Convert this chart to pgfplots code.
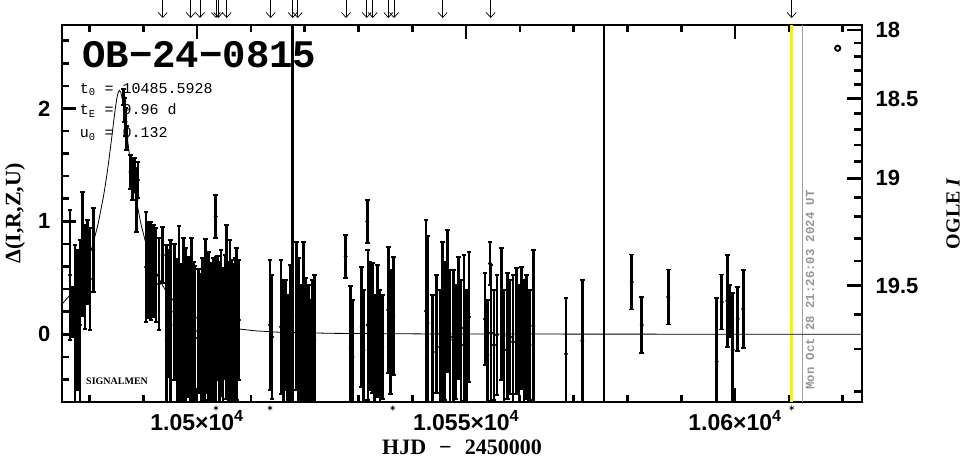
\documentclass[border=0pt]{standalone}
\usepackage{fontspec}
\setmainfont{Liberation Serif}
\newfontfamily\sansf{Liberation Sans}
\newfontfamily\monof{Liberation Mono}
\usepackage{pgfplots}
\usepackage{pgfplotstable}
\pgfplotsset{compat=1.18}
\usetikzlibrary{arrows.meta}
\definecolor{tgray}{RGB}{150,150,150}
\definecolor{lgray}{RGB}{160,160,160}

\pgfplotstableread{
x y e
10476.39 0.525 0.576
10476.85 0.198 0.221
10477.32 0.038 0.753
10477.74 0.127 0.620
10478.25 0.082 0.753
10478.75 0.711 0.549
10479.18 0.508 0.461
10479.60 0.640 0.372
10480.10 0.490 0.452
10480.72 0.747 0.372
10486.33 2.102 0.071
10486.52 1.987 0.106
10486.70 1.880 0.124
10486.89 1.739 0.106
10487.63 1.437 0.151
10488.00 1.367 0.177
10488.38 1.411 0.151
10488.75 1.189 0.283
10489.03 1.367 0.159
10490.51 0.596 0.487
10490.98 0.570 0.425
10491.44 0.561 0.434
10491.91 0.561 0.407
10492.37 0.525 0.416
10492.93 0.446 0.407
10493.62 0.702 0.248
10494.36 -0.050 0.841
10494.55 0.184 0.562
10495.07 0.082 0.753
10495.77 0.198 0.602
10496.28 -0.024 0.691
10496.65 0.189 0.771
10497.11 -0.024 0.647
10497.45 0.118 0.735
10497.89 0.047 0.717
10498.38 0.065 0.620
10498.69 -0.095 0.664
10499.01 0.136 0.717
10499.34 -0.033 0.673
10499.62 -0.033 0.638
10500.23 0.029 0.549
10500.74 -0.068 0.602
10501.02 0.038 0.638
10501.35 0.029 0.611
10501.61 0.162 0.682
10502.09 0.074 0.655
10502.41 -0.059 0.647
10502.73 -0.015 0.647
10503.06 0.047 0.629
10503.47 1.043 0.190
10503.56 0.029 0.655
10503.84 0.144 0.549
10504.18 -0.015 0.655
10504.45 0.100 0.647
10504.83 -0.042 0.629
10505.20 0.153 0.549
10505.51 0.198 0.771
10505.85 -0.015 0.655
10506.13 0.109 0.726
10506.41 0.020 0.638
10506.74 0.020 0.602
10507.06 0.003 0.673
10507.37 0.091 0.673
10507.80 0.127 0.531
10513.56 0.082 0.576
10513.93 -0.024 0.549
10515.61 0.065 0.593
10516.03 -0.112 0.593
10516.48 -0.006 0.487
10516.85 -0.201 0.549
10517.28 -0.006 0.620
10518.52 0.162 0.655
10518.82 0.003 0.673
10519.23 -0.157 0.593
10519.75 0.100 0.717
10520.16 -0.086 0.585
10520.68 -0.112 0.549
10521.13 -0.228 0.531
10521.46 -0.050 0.531
10521.80 -0.050 0.576
10527.63 0.689 0.190
10528.56 -0.121 0.549
10528.90 -0.201 0.505
10530.61 0.065 0.531
10530.94 -0.139 0.531
10531.65 0.999 0.190
10531.74 0.082 0.664
10532.15 0.074 0.567
10532.58 0.056 0.576
10532.99 -0.157 0.505
10533.58 0.029 0.585
10534.01 -0.112 0.505
10534.43 -0.112 0.461
10535.55 0.215 0.558
10535.96 0.020 0.549
10536.48 0.162 0.523
10542.56 0.206 0.806
10542.84 0.100 0.771
10543.80 -0.157 0.505
10544.55 0.003 0.523
10545.16 -0.112 0.505
10545.66 0.109 0.709
10546.09 0.029 0.611
10546.59 0.295 0.629
10547.02 -0.024 0.593
10547.63 -0.050 0.620
10548.13 -0.068 0.505
10548.56 0.144 0.540
10549.06 -0.095 0.576
10549.62 0.056 0.647
10550.08 -0.104 0.496
10550.55 0.153 0.576
10553.52 0.136 0.407
10553.99 -0.183 0.487
10554.45 0.627 0.190
10554.64 0.012 0.602
10555.20 -0.095 0.487
10555.75 -0.006 0.531
10556.63 0.180 0.585
10557.06 -0.139 0.531
10557.71 -0.015 0.558
10558.17 -0.024 0.505
10558.73 -0.068 0.593
10559.42 0.029 0.558
10559.84 -0.095 0.531
10560.34 0.056 0.540
10560.77 -0.095 0.576
10561.27 -0.024 0.549
10561.79 -0.095 0.487
10562.50 0.074 0.673
10568.58 -0.174 0.496
10571.61 -0.059 0.540
10580.79 0.463 0.244
10582.65 0.082 0.248
10587.59 0.330 0.244
10596.59 -0.243 0.564
10597.52 0.286 0.244
10598.56 0.295 0.407
10598.97 0.206 0.230
10599.56 -0.139 0.505
10600.49 0.136 0.283
10601.53 0.224 0.345
}\obsdata

\pgfplotstableread{
x y
10474.90 0.266
10476.59 0.359
10477.59 0.433
10478.59 0.526
10479.59 0.641
10480.59 0.787
10481.59 0.973
10482.59 1.215
10483.09 1.363
10483.59 1.532
10484.09 1.721
10484.59 1.918
10484.84 2.011
10485.09 2.089
10485.34 2.142
10485.59 2.160
10485.84 2.142
10486.09 2.089
10486.34 2.011
10486.59 1.918
10487.09 1.721
10487.59 1.532
10488.09 1.363
10488.59 1.215
10489.59 0.973
10490.59 0.787
10491.59 0.641
10492.59 0.526
10493.59 0.433
10494.59 0.359
10495.59 0.299
10497.59 0.210
10500.59 0.127
10505.59 0.060
10510.59 0.031
10515.59 0.017
10525.59 0.008
10545.59 0.002
10623.60 0.000
}\modeldata

\pgfplotsset{base/.style={scale only axis, width=800pt, height=377pt,
  at={(62pt,57pt)}, anchor=south west,
  xmin=10474.9, xmax=10623.6, ymin=-0.6, ymax=2.739}}

\begin{document}
\begin{tikzpicture}
\path[use as bounding box] (0,0) rectangle (965pt,459pt);
\begin{axis}[base,
  axis line style={line width=2.6pt},
  tick style={line width=2.6pt, black},
  major tick length=14pt, minor tick length=7pt,
  tick align=inside,
  scaled x ticks=false, scaled y ticks=false,
  xtick={10500,10550,10600},
  xticklabels={1.05×10\textsuperscript{4},1.055×10\textsuperscript{4},1.06×10\textsuperscript{4}},
  minor xtick={10480,10490,10510,10520,10530,10540,10560,10570,10580,10590,10610,10620},
  xtick pos=both, xticklabel pos=lower,
  ytick={0,1,2}, yticklabels={0,1,2},
  minor ytick={-0.4,-0.2,0.2,0.4,0.6,0.8,1.2,1.4,1.6,1.8,2.2,2.4,2.6},
  ytick pos=left,
  /pgf/number format/assume math mode=true,
  xticklabel style={font=\sansf\bfseries\fontsize{23}{23}\selectfont, yshift=-5pt},
  yticklabel style={font=\sansf\bfseries\fontsize{22}{22}\selectfont, xshift=-8pt},
  xlabel={HJD\hspace{13pt}−\hspace{13pt}2450000},
  ylabel={Δ(I,R,Z,U)},
  every axis x label/.style={at={(rel axis cs:0.5,0)}, yshift=-45pt, anchor=center, inner sep=0pt,
     font=\bfseries\fontsize{22}{22}\selectfont},
  every axis y label/.style={at={(rel axis cs:0,0.5)}, xshift=-47pt, anchor=center, rotate=90,
     font=\bfseries\fontsize{22}{22}\selectfont},
  every error bar/.append style={line width=2.6pt},
]
% vertical markers
\addplot[yellow, line width=3.6pt] coordinates {(10610.53,-0.6) (10610.53,2.739)};
\addplot[lgray, line width=1.1pt] coordinates {(10612.50,-0.6) (10612.50,2.739)};
\addplot[black, line width=2.6pt] coordinates {(10517.78,-0.6) (10517.78,2.739)};
\addplot[black, line width=2.6pt] coordinates {(10575.64,-0.6) (10575.64,2.739)};
% model
\addplot[black, line width=0.8pt] table[x=x,y=y] {\modeldata};
% observations
\addplot[black, only marks, mark=*, mark size=1.8pt,
  error bars/.cd, y dir=both, y explicit,
  error bar style={line width=2.6pt, black},
  error mark options={rotate=90, mark size=2.4pt, line width=1.8pt, black}]
  table[x=x, y=y, y error=e] {\obsdata};
% small circle
\addplot[black, only marks, mark=o, mark size=2.6pt, line width=1.9pt] coordinates {(10619.08,2.533)};
% texts
\node[anchor=base west, font=\monof\bfseries\fontsize{39}{39}\selectfont] at (rel axis cs:0.021,0.886) {OB−24−0815};
\node[anchor=base west, font=\monof\fontsize{15}{15}\selectfont] at (rel axis cs:0.018,0.8196) {t\textsubscript{0} = 10485.5928};
\node[anchor=base west, font=\monof\fontsize{15}{15}\selectfont] at (rel axis cs:0.018,0.7613) {t\textsubscript{E} = 9.96 d};
\node[anchor=base west, font=\monof\fontsize{15}{15}\selectfont] at (rel axis cs:0.018,0.7003) {u\textsubscript{0} = 0.132};
\node[anchor=base west, font=\bfseries\fontsize{10}{10}\selectfont] at (rel axis cs:0.0259,0.0477) {SIGNALMEN};
\node[rotate=90, anchor=center, text=tgray, font=\monof\bfseries\fontsize{12.3}{12.3}\selectfont] at (axis cs:10613.93,0.392) {Mon Oct 28 21:26:03 2024 UT};
\end{axis}
\begin{axis}[base, clip=false,
  axis x line=none, axis y line*=right,
  axis line style={line width=2.6pt},
  tick style={line width=2.6pt, black},
  major tick length=15pt, minor tick length=8pt,
  tick align=inside,
  ytick={0.430,1.382,2.087,2.695}, yticklabels={19.5,19,18.5,18},
  minor ytick={2.578,2.459,2.335,2.211,1.954,1.816,1.677,1.529,1.210,1.042,0.850,0.649,0.174,-0.130,-0.508},
  yticklabel style={font=\sansf\bfseries\fontsize{22}{22}\selectfont, anchor=west, xshift=10pt},
]
\addplot[black, line width=0.7pt, -{Straight Barb[length=5pt,width=9pt]},
  quiver={u=0,v=-0.16}] coordinates {
(10493.62,2.961) (10498.82,2.961) (10500.55,2.961) (10503.52,2.961) (10503.95,2.961)
(10505.51,2.961) (10513.69,2.961) (10517.78,2.961) (10518.71,2.961) (10527.69,2.961)
(10531.54,2.961) (10532.65,2.961) (10535.55,2.961) (10536.61,2.961) (10545.66,2.961)
(10554.58,2.961) (10610.53,2.961)};
\addplot[black, only marks, mark=asterisk, mark size=2.6pt, line width=0.6pt] coordinates {
(10503.52,-0.653) (10513.56,-0.653) (10536.37,-0.653) (10610.53,-0.653)};
\node[rotate=90, anchor=center, inner sep=0pt, font=\bfseries\fontsize{20}{20}\selectfont] at (rel axis cs:1.114,0.5) {OGLE \textit{I}};
\end{axis}
\end{tikzpicture}
\end{document}
